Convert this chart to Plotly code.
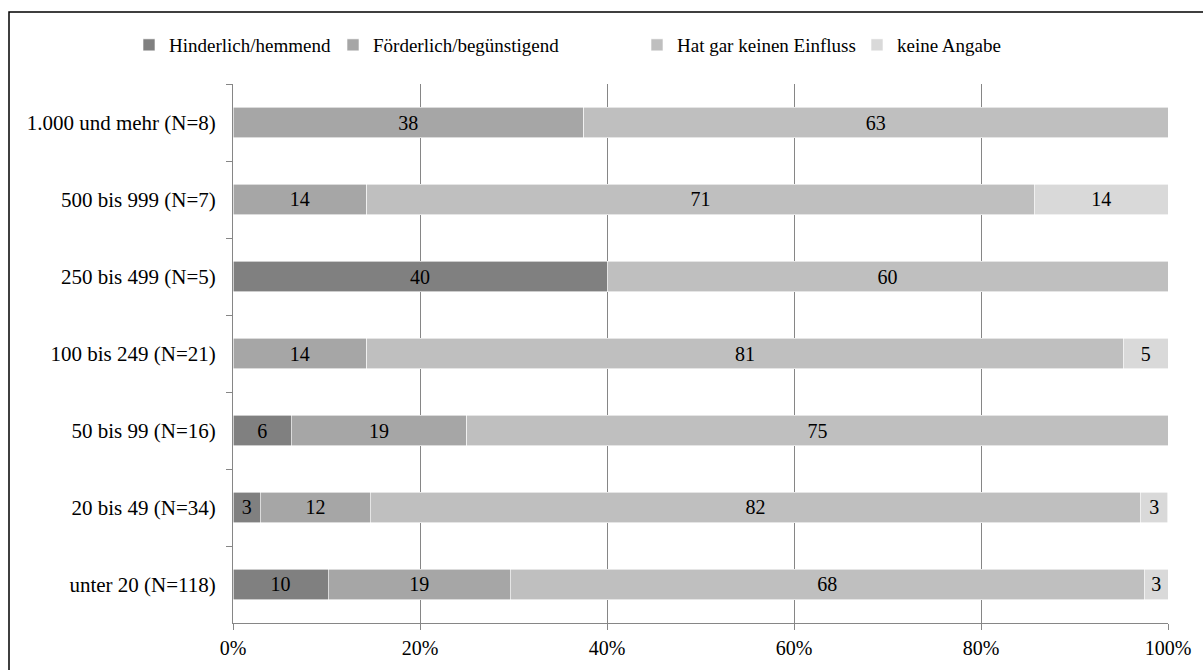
import plotly.graph_objects as go

categories = ["1.000 und mehr (N=8)", "500 bis 999 (N=7)", "250 bis 499 (N=5)",
              "100 bis 249 (N=21)", "50 bis 99 (N=16)", "20 bis 49 (N=34)", "unter 20 (N=118)"]

hinderlich = [0, 0, 40.0, 0, 6.25, 2.94, 10.17]
foerderlich = [37.5, 14.29, 0, 14.29, 18.75, 11.76, 19.49]
kein_einfluss = [62.5, 71.43, 60.0, 80.95, 75.0, 82.35, 67.80]
keine_angabe = [0, 14.29, 0, 4.76, 0, 2.94, 2.54]

series_names = ["Hinderlich/hemmend", "Förderlich/begünstigend", "Hat gar keinen Einfluss", "keine Angabe"]
series_values = [hinderlich, foerderlich, kein_einfluss, keine_angabe]
series_colors = ["#808080", "#a6a6a6", "#bfbfbf", "#d9d9d9"]

FONT = "Liberation Serif, Times New Roman, serif"
L, R, T, B = 233, 35, 84, 47
W, H = 1203, 670
PW, PH = W - L - R, H - T - B

legend_px = [129, 333, 637, 857]   # left pixel of each legend box
legend_ids = ["legend", "legend2", "legend3", "legend4"]

fig = go.Figure()
for name, vals, color, lid in zip(series_names, series_values, series_colors, legend_ids):
    fig.add_trace(go.Bar(
        y=categories, x=[v / 100 for v in vals], name=name, orientation="h",
        legend=lid,
        marker=dict(color=color, line=dict(color="#ffffff", width=0.6)),
        text=[str(int(v + 0.5)) if v > 0 else "" for v in vals],
        textposition="inside", insidetextanchor="middle", textangle=0,
        constraintext="none",
        textfont=dict(family=FONT, size=20, color="#000000"),
        hoverinfo="skip",
    ))

legend_common = dict(orientation="h", yanchor="middle", xanchor="left",
                     y=(H - B - 45) / PH,
                     font=dict(family=FONT, size=19, color="#000000"),
                     bgcolor="rgba(0,0,0,0)", borderwidth=0, itemwidth=30)

layout_legends = {}
for lid, px in zip(legend_ids, legend_px):
    layout_legends[lid] = dict(legend_common, x=(px - L) / PW)

fig.update_layout(
    barmode="stack", bargap=0.61,
    width=W, height=H,
    margin=dict(l=L, r=R, t=T, b=B, autoexpand=False),
    paper_bgcolor="#ffffff", plot_bgcolor="#ffffff",
    font=dict(family=FONT, size=20, color="#000000"),
    showlegend=True,
    xaxis=dict(range=[0, 1], tickvals=[0, 0.2, 0.4, 0.6, 0.8, 1.0],
               ticktext=["0%", "20%", "40%", "60%", "80%", "100%"],
               showgrid=True, gridcolor="#868686", gridwidth=1,
               showline=True, linecolor="#868686", linewidth=1,
               ticks="outside", ticklen=6, tickcolor="#868686",
               ticklabelstandoff=1,
               zeroline=False, fixedrange=True,
               tickfont=dict(family=FONT, size=20, color="#000000")),
    yaxis=dict(categoryorder="array", categoryarray=categories, autorange="reversed",
               showline=True, linecolor="#868686", linewidth=1,
               ticks="outside", ticklen=6, tickcolor="#868686", tickson="boundaries",
               ticklabelstandoff=12,
               showgrid=False, zeroline=False, fixedrange=True,
               tickfont=dict(family=FONT, size=21, color="#000000")),
    shapes=[dict(type="rect", xref="paper", yref="paper",
                 x0=(9 - L) / PW, x1=1.2, y0=-0.3, y1=(H - B - 12) / PH,
                 line=dict(color="#000000", width=1.5), fillcolor="rgba(0,0,0,0)",
                 layer="above")],
    **layout_legends,
)

fig.write_html("out.html", config={"displayModeBar": False},
               post_script="document.body.style.margin='0px';document.body.style.overflow='hidden';")
